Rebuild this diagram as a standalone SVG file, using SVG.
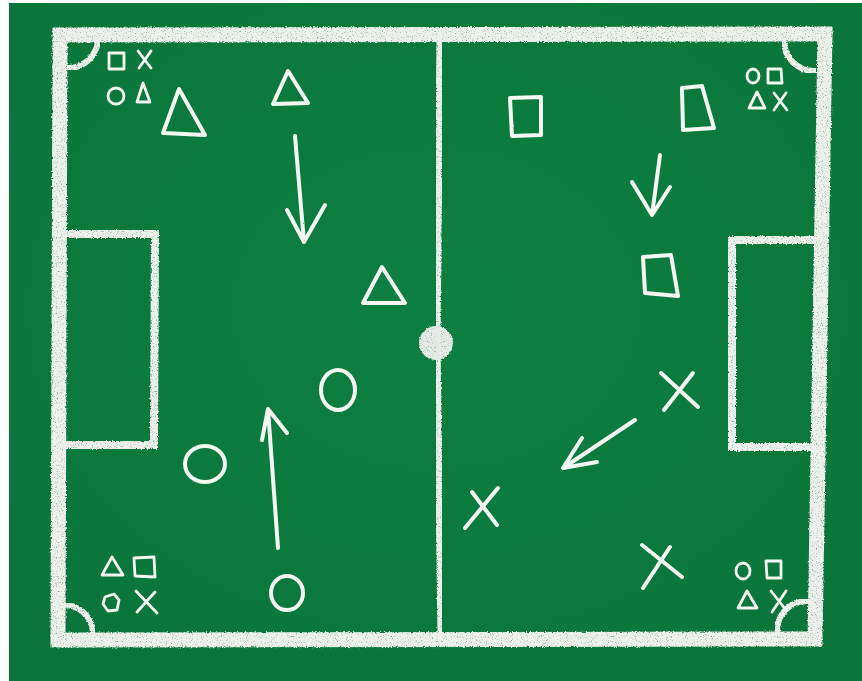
<svg xmlns="http://www.w3.org/2000/svg" width="862" height="681" viewBox="0 0 862 681">
  <defs>
    <filter id="chalk" x="-5%" y="-5%" width="110%" height="110%">
      <feTurbulence type="fractalNoise" baseFrequency="0.8" numOctaves="2" seed="3" result="n"/>
      <feDisplacementMap in="SourceGraphic" in2="n" scale="3" xChannelSelector="R" yChannelSelector="G" result="d"/>
      <feColorMatrix in="n" type="matrix" values="0 0 0 0 0  0 0 0 0 0  0 0 0 0 0  0 0 0 -2.2 2.3" result="mask"/>
      <feComposite in="d" in2="mask" operator="in"/>
    </filter>
    <filter id="soft" x="-10%" y="-10%" width="120%" height="120%">
      <feTurbulence type="fractalNoise" baseFrequency="0.6" numOctaves="1" seed="7" result="n"/>
      <feDisplacementMap in="SourceGraphic" in2="n" scale="1.6" xChannelSelector="R" yChannelSelector="G"/>
    </filter>
    <radialGradient id="bg" cx="0.5" cy="0.45" r="0.7">
      <stop offset="0" stop-color="#0d8041"/>
      <stop offset="1" stop-color="#0a7439"/>
    </radialGradient>
  </defs>
  <style>
    .field { fill: none; stroke: #eef0ec; stroke-linecap: square; stroke-linejoin: miter; filter: url(#chalk); }
    .outer { stroke-width: 15; }
    .box { stroke-width: 8; }
    .mark { fill: none; stroke: #f3f8f1; stroke-width: 4; stroke-linecap: round; stroke-linejoin: round; filter: url(#soft); }
    .small { stroke-width: 2.8; }
  </style>

  <rect x="0" y="0" width="862" height="681" fill="#ffffff"/>
  <rect x="9" y="3" width="853" height="678" fill="url(#bg)"/>

  <g id="pitch">
    <path class="field outer" d="M60 35 L825 34 L815 639 L58 640 Z"/>
    <path class="field" stroke-width="7" d="M440 38 L437 342 L441 636"/>
    <circle cx="436" cy="343" r="17" fill="#e6eae6" filter="url(#chalk)"/>
    <path class="field box" d="M69 234 L155 234 L154 445 L67 445"/>
    <path class="field box" d="M812 240 L732 240 L732 447 L810 447"/>
    <path class="field" stroke-width="6" stroke-linecap="round" d="M98 41 A30 30 0 0 1 69 68"/>
    <path class="field" stroke-width="6" stroke-linecap="round" d="M784 41 A30 30 0 0 0 814 71"/>
    <path class="field" stroke-width="6" stroke-linecap="round" d="M64 605 A29 29 0 0 1 93 632"/>
    <path class="field" stroke-width="6" stroke-linecap="round" d="M777 632 A30 30 0 0 1 807 601"/>
  </g>

  <g id="legend-top-left">
    <path class="mark small" d="M109 53 L124 53 L124 69 L109 69 Z"/>
    <path class="mark small" d="M138 51 L151 68 M151 51 L139 68"/>
    <ellipse class="mark small" cx="116" cy="96" rx="8" ry="8"/>
    <path class="mark small" d="M143 83 L137 102 L150 102 Z"/>
  </g>
  <g id="legend-top-right">
    <ellipse class="mark small" cx="753" cy="76" rx="6" ry="7"/>
    <path class="mark small" d="M768 69 L781 69 L782 83 L768 83 Z"/>
    <path class="mark small" d="M757 92 L749 108 L765 108 Z"/>
    <path class="mark small" d="M774 93 L787 110 M786 93 L774 110"/>
  </g>
  <g id="legend-bottom-left">
    <path class="mark small" d="M112 557 L102 575 L123 575 Z"/>
    <path class="mark small" d="M134 558 L154 557 L155 577 L135 576 Z"/>
    <path class="mark small" d="M105 597 L114 594 L119 600 L117 610 L108 611 L103 604 Z"/>
    <path class="mark small" d="M136 591 L157 613 M155 592 L137 612"/>
  </g>
  <g id="legend-bottom-right">
    <ellipse class="mark small" cx="743" cy="571" rx="7" ry="8"/>
    <path class="mark small" d="M766 561 L781 561 L781 578 L767 578 Z"/>
    <path class="mark small" d="M747 591 L738 608 L757 608 Z"/>
    <path class="mark small" d="M771 591 L786 610 M786 591 L772 612"/>
  </g>

  <g id="team-triangles">
    <path class="mark" d="M179 89 L163 133 L205 135 Z"/>
    <path class="mark" d="M288 71 L273 104 L308 103 Z"/>
    <path class="mark" d="M382 267 L363 303 L405 303 Z"/>
  </g>
  <g id="team-circles">
    <ellipse class="mark" cx="338" cy="390" rx="17" ry="20"/>
    <ellipse class="mark" cx="205" cy="464" rx="20" ry="18"/>
    <ellipse class="mark" cx="287" cy="593" rx="16" ry="17"/>
  </g>
  <g id="team-squares">
    <path class="mark" d="M510 98 L541 97 L541 135 L512 136 Z"/>
    <path class="mark" d="M682 88 L702 86 L714 128 L683 130 Z"/>
    <path class="mark" d="M643 257 L671 255 L678 296 L645 293 Z"/>
  </g>
  <g id="team-crosses">
    <path class="mark" d="M661 373 L698 407 M693 373 L664 410"/>
    <path class="mark" d="M472 492 L497 525 M498 488 L465 528"/>
    <path class="mark" d="M642 545 L682 577 M670 547 L643 588"/>
  </g>

  <g id="connectors">
    <path class="mark" d="M295 136 L304 242 M287 210 L304 242 L325 205"/>
    <path class="mark" d="M278 548 L268 409 M262 440 L268 409 L287 433"/>
    <path class="mark" d="M660 155 L652 215 M632 182 L652 215 L670 187"/>
    <path class="mark" d="M635 420 L563 468 M582 438 L563 468 L597 462"/>
  </g>
</svg>
